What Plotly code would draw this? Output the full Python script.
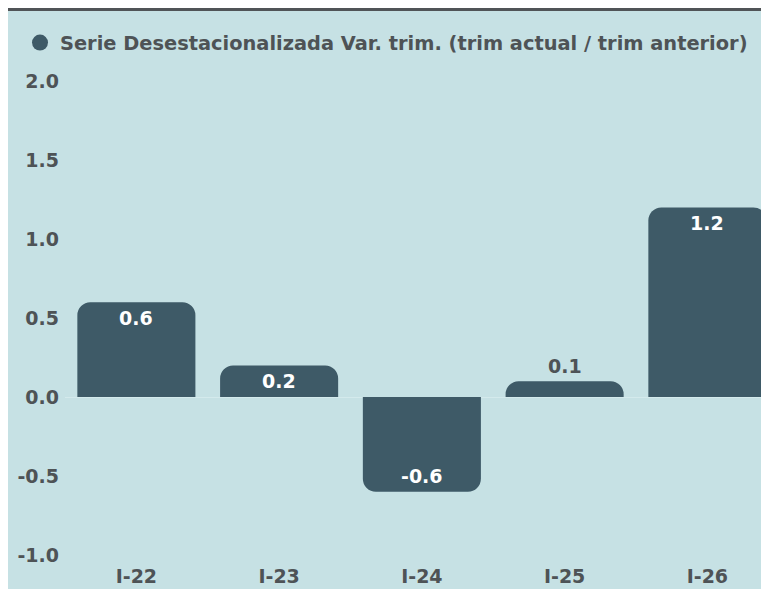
import plotly.graph_objects as go

categories = ["I-22", "I-23", "I-24", "I-25", "I-26"]
values = [0.6, 0.2, -0.6, 0.1, 1.2]
value_labels = ["0.6", "0.2", "-0.6", "0.1", "1.2"]
series_name = "Serie Desestacionalizada Var. trim. (trim actual / trim anterior)"
y_ticks = [-1.0, -0.5, 0.0, 0.5, 1.0, 1.5, 2.0]
y_tick_labels = ["-1.0", "-0.5", "0.0", "0.5", "1.0", "1.5", "2.0"]

# the page body adds an 8px white margin at top/left
W, H = 761, 581
ML, MR, MT, MB = 57, 0, 62, 29
PW, PH = W - ML - MR, H - MT - MB

BG = "#c6e1e4"
BAR = "#3e5a67"
TXT = "#4e5356"
FONT = "DejaVu Sans"

def px_x(p):
    return (p - ML) / PW

def px_y(p):
    return (H - MB - p) / PH

fig = go.Figure()
fig.add_trace(go.Bar(
    x=categories, y=values,
    marker=dict(color=BAR, cornerradius=13, line=dict(width=0)),
    showlegend=False, hoverinfo="skip",
))
fig.add_trace(go.Scatter(
    x=[None], y=[None], mode="markers", name=series_name,
    marker=dict(color=BAR, size=18, symbol="circle"),
))

annotations = []
for c, v, lab in zip(categories, values, value_labels):
    inside = abs(v) >= 0.15
    sign = 1 if v >= 0 else -1
    annotations.append(dict(
        x=c, y=v, xref="x", yref="y", text=lab, showarrow=False,
        yanchor="middle", xanchor="center",
        yshift=(-16 * sign) if inside else 15,
        font=dict(size=19, family=FONT, weight="bold",
                  color="white" if inside else TXT),
    ))

fig.update_layout(
    width=W, height=H,
    margin=dict(l=ML, r=MR, t=MT, b=MB, pad=0),
    paper_bgcolor=BG, plot_bgcolor=BG,
    bargap=0.173,
    font=dict(family=FONT, color=TXT, size=18, weight="bold"),
    legend=dict(
        orientation="h", x=px_x(12), y=px_y(35), xanchor="left", yanchor="middle",
        font=dict(size=19.4, color=TXT, family=FONT, weight="bold"),
        bgcolor="rgba(0,0,0,0)", itemwidth=30,
    ),
    xaxis=dict(
        type="category", range=[-0.5, -0.5 + PW / 142.75],
        showgrid=False, showline=False, zeroline=False, ticks="",
        tickfont=dict(size=19, color=TXT, family=FONT, weight="bold"),
        ticklabelstandoff=3,
    ),
    yaxis=dict(
        range=[-1.0316, 2.0696], tickvals=y_ticks, ticktext=y_tick_labels,
        showgrid=False, showline=False, ticks="",
        zeroline=True, zerolinecolor="#d4eaec", zerolinewidth=1,
        tickfont=dict(size=19, color=TXT, family=FONT, weight="bold"),
        ticklabelstandoff=5,
    ),
    annotations=annotations,
    shapes=[
        dict(type="rect", xref="paper", yref="paper", x0=px_x(0), x1=px_x(W),
             y0=px_y(3), y1=px_y(0), fillcolor="#505457", line=dict(width=0), layer="above"),
    ],
)

fig.write_html("out.html")
